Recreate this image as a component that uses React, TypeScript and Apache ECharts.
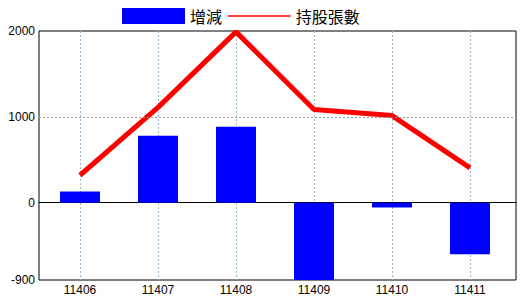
import React, { useEffect, useRef } from "react";
import * as echarts from "echarts";

const categories = ["11406", "11407", "11408", "11409", "11410", "11411"];
const changeValues = [130, 780, 885, -900, -55, -600];
const holdingValues = [320, 1110, 1990, 1085, 1015, 405];
const yLabelValues = [-900, 0, 1000, 2000];
const gridLineValues = [1000];

export default function App() {
  const ref = useRef<HTMLDivElement>(null);
  useEffect(() => {
    if (!ref.current) return;
    const chart = echarts.init(ref.current, null, { renderer: "svg" });
    const font = "'Liberation Sans', Arial, sans-serif";
    chart.setOption({
      animation: false,
      backgroundColor: "#ffffff",
      legend: {
        left: 122,
        top: 8,
        itemWidth: 63,
        itemHeight: 16,
        itemGap: 5,
        padding: 0,
        textStyle: { fontSize: 16, color: "#000", fontFamily: "'Noto Sans CJK TC', sans-serif" },
        data: [
          { name: "增減", icon: "rect" },
          { name: "持股張數", lineStyle: { width: 1.5 }, itemStyle: { opacity: 0 } },
        ],
      },
      grid: [
        { left: 41, top: 31, width: 468, height: 249 },
        { left: 39, top: 31, width: 477, height: 249, show: true, borderColor: "#000", borderWidth: 1, backgroundColor: "transparent" },
      ],
      xAxis: [
        {
          type: "category",
          gridIndex: 0,
          data: categories,
          boundaryGap: true,
          axisLine: { show: false },
          axisTick: { show: false, alignWithLabel: true },
          axisLabel: { margin: 4, fontSize: 12, color: "#000", fontFamily: font },
          splitLine: { show: true, alignWithLabel: true, lineStyle: { color: "#9ab8cc", type: [2, 2], width: 1 } },
        },
        {
          type: "value",
          gridIndex: 1,
          min: 0,
          max: 1,
          axisLine: { show: true, onZero: true, lineStyle: { color: "#000", width: 1 } },
          axisTick: { show: false },
          axisLabel: { show: false },
          splitLine: { show: false },
        },
      ],
      yAxis: [
        {
          type: "value",
          gridIndex: 0,
          min: -900,
          max: 2000,
          axisLine: { show: false },
          axisTick: { show: false },
          axisLabel: { show: false },
          splitLine: { show: false },
        },
        {
          type: "value",
          gridIndex: 1,
          min: -900,
          max: 2000,
          axisLine: { show: false },
          axisTick: { show: false },
          axisLabel: {
            customValues: yLabelValues,
            formatter: (v: number) => String(v),
            margin: 4,
            fontSize: 12,
            color: "#000",
            fontFamily: font,
          },
          splitLine: { show: false },
        },
      ],
      series: [
        {
          name: "gridlines",
          type: "line",
          xAxisIndex: 1,
          yAxisIndex: 1,
          data: [],
          z: 1,
          silent: true,
          markLine: {
            silent: true,
            symbol: "none",
            label: { show: false },
            lineStyle: { color: "#999999", type: [2, 2], width: 1 },
            data: gridLineValues.map((v) => ({ yAxis: v })),
          },
        },
        {
          name: "增減",
          type: "bar",
          xAxisIndex: 0,
          yAxisIndex: 0,
          data: changeValues,
          barWidth: 40,
          z: 2,
          itemStyle: { color: "#0000ff" },
        },
        {
          name: "持股張數",
          type: "line",
          xAxisIndex: 0,
          yAxisIndex: 0,
          data: holdingValues,
          symbol: "none",
          showSymbol: false,
          z: 3,
          itemStyle: { color: "#ff0000" },
          lineStyle: { color: "#ff0000", width: 5 },
        },
      ],
    });
    return () => chart.dispose();
  }, []);
  return <div ref={ref} style={{ width: 520, height: 300, position: "absolute", left: 0, top: 0 }} />;
}
